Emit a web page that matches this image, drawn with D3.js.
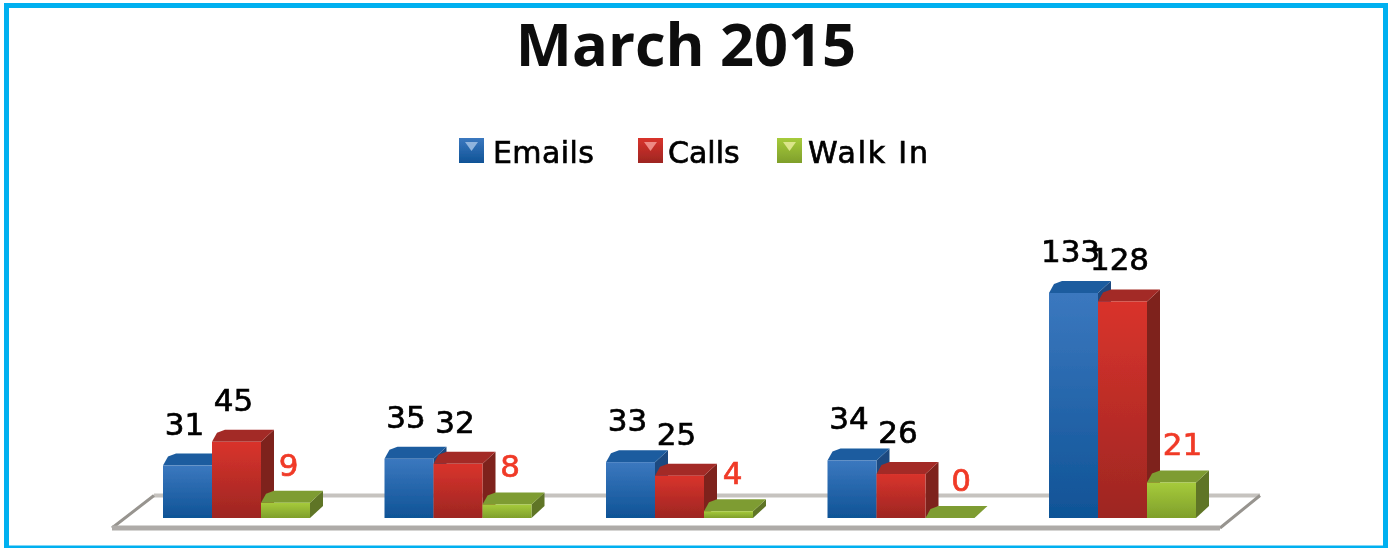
<!doctype html>
<html lang="en">
  <head>
    <title>March 2015</title>
    <style>
      html, body {
        margin: 0;
        background: #fff;
      }
      svg {
        display: block;
      }
      text {
        font-family: "DejaVu Sans", sans-serif;
      }
      .title {
        font-family: "Open Sans", sans-serif;
        font-weight: 700;
      }
    </style>
  </head>
  <body>
    <div id="chart"></div>

    <script src="https://cdn.jsdelivr.net/npm/d3@7"></script>
    <script>
      const title = 'March 2015'
      const groups = ['A', 'B', 'C', 'D', 'E']
      const series = ['Emails', 'Calls', 'Walk In']
      const emails = [31, 35, 33, 34, 133]
      const calls = [45, 32, 25, 26, 128]
      const walkIn = [9, 8, 4, 0, 21]
      const values = [emails, calls, walkIn]

      const width = 1389
      const height = 548
      const depthX = 13
      const depthY = 12
      const barWidth = 49
      // the walk in labels were placed by hand in the original
      const walkInNudge = [0, 0, 1, 8, 8]

      const svg = d3.select('#chart')
        .append('svg')
        .attr('width', width)
        .attr('height', height)

      const defs = svg.append('defs')
      defs.append('filter').attr('id', 'soft')
        .append('feGaussianBlur').attr('stdDeviation', 0.7)

      const colors = {
        'Emails': { hi: '#3b78bf', lo: '#0f5396', top: '#1d5c9f', side: '#1b4a80', swatch: '#8fb4dd' },
        'Calls': { hi: '#d9332c', lo: '#9d2622', top: '#a32a25', side: '#7e221d', swatch: '#ee8a84' },
        'Walk In': { hi: '#a6cb3b', lo: '#7f9f2b', top: '#7e9c30', side: '#5f7526', swatch: '#dbe58a' }
      }

      series.forEach((s, i) => {
        const grad = defs.append('linearGradient')
          .attr('id', `grad${i}`)
          .attr('x1', 0).attr('x2', 0).attr('y1', 0).attr('y2', 1)
        grad.append('stop').attr('offset', 0).attr('stop-color', colors[s].hi)
        grad.append('stop').attr('offset', 1).attr('stop-color', colors[s].lo)
      })

      const x = d3.scalePoint()
        .domain(groups)
        .range([163, 1049])
      const inner = d3.scaleBand()
        .domain(series)
        .range([0, barWidth * 3])
      const y = d3.scaleLinear()
        .domain([0, 133])
        .range([518, 293])

      // frame runs off the bottom edge, like the cropped original
      svg.append('rect')
        .attr('x', 6.5)
        .attr('y', 5.5)
        .attr('width', width - 10)
        .attr('height', height)
        .attr('fill', '#fff')
        .attr('stroke', '#00b0f0')
        .attr('stroke-width', 5)
      svg.append('line')
        .attr('x1', 4)
        .attr('x2', 1386)
        .attr('y1', 547)
        .attr('y2', 547)
        .attr('stroke', '#00b0f0')
        .attr('stroke-width', 3)

      const page = svg.append('g').attr('filter', 'url(#soft)')

      page.append('text')
        .attr('class', 'title')
        .attr('x', 686)
        .attr('y', 66)
        .attr('text-anchor', 'middle')
        .attr('font-size', 59.5)
        .attr('fill', '#0a0a0a')
        .text(title)

      // legend
      const legendSwatch = d3.scaleOrdinal(series, [459, 638, 777])
      const legendText = d3.scaleOrdinal(series, [493, 668, 808])
      const legendSpacing = d3.scaleOrdinal(series, [0.4, 0, 1.8])
      const legend = page.append('g')
        .selectAll('g')
        .data(series)
        .join('g')
      legend.append('rect')
        .attr('x', d => legendSwatch(d))
        .attr('y', 138)
        .attr('width', 25)
        .attr('height', 25)
        .attr('fill', (d, i) => `url(#grad${i})`)
      legend.append('path')
        .attr('d', d => {
          const l = legendSwatch(d)
          return `M${l + 6},142L${l + 19},142L${l + 12.5},151Z`
        })
        .attr('fill', d => colors[d].swatch)
      legend.append('text')
        .attr('x', d => legendText(d))
        .attr('y', 163)
        .attr('font-size', 30)
        .attr('letter-spacing', d => legendSpacing(d))
        .attr('fill', '#000')
        .attr('stroke', '#000')
        .attr('stroke-width', 0.7)
        .text(d => d)

      // floor
      const baseY = y(0)
      const floorLeft = x(groups[0]) - 51
      const floorRight = x(groups[4]) + 171
      const floorBack = baseY - 22.5
      const floorFront = baseY + 10
      page.append('path')
        .attr('d', `M${floorLeft + 42},${floorBack}L${floorRight + 40},${floorBack}`)
        .attr('stroke', '#c6c3bf')
        .attr('stroke-width', 4)
      page.append('path')
        .attr('d', `M${floorLeft},${floorFront}L${floorLeft + 42},${floorBack}M${floorRight},${floorFront}L${floorRight + 40},${floorBack}`)
        .attr('stroke', '#97948f')
        .attr('stroke-width', 3)
      page.append('path')
        .attr('d', `M${floorLeft},${floorFront}L${floorRight},${floorFront}`)
        .attr('stroke', '#aeaba8')
        .attr('stroke-width', 5)

      // bars go left to right so each one covers the side of the previous
      const plot = page.append('g')
      groups.forEach((g, gi) => {
        series.forEach((s, si) => {
          const v = values[si][gi]
          const left = x(g) + inner(s)
          const right = left + inner.bandwidth()
          const top = y(v)
          const c = colors[s]
          const bar = plot.append('g')

          bar.append('path')
            .attr('d', `M${right},${top}L${right + depthX},${top - depthY}L${right + depthX},${baseY - depthY}L${right},${baseY}Z`)
            .attr('fill', c.side)
          bar.append('path')
            .attr('d', `M${left},${top}L${left + 5},${top - depthY + 3}L${left + depthX},${top - depthY}L${right + depthX},${top - depthY}L${right},${top}Z`)
            .attr('fill', c.top)
          if (v > 0) {
            bar.append('rect')
              .attr('x', left)
              .attr('y', top)
              .attr('width', right - left)
              .attr('height', baseY - top)
              .attr('fill', `url(#grad${si})`)
          }
        })
      })

      // value labels
      series.forEach((s, si) => {
        page.append('g')
          .selectAll('text')
          .data(values[si])
          .join('text')
          .attr('x', (d, i) => x(groups[i]) + inner(s) + inner.bandwidth() / 2 + (si === 2 ? 3 + walkInNudge[i] : -3))
          .attr('y', d => y(d) - (si === 2 ? 27 : 31))
          .attr('text-anchor', 'middle')
          .attr('font-size', 31)
          .attr('fill', si === 2 ? '#f03a28' : '#000')
          .attr('stroke', si === 2 ? '#f03a28' : '#000')
          .attr('stroke-width', 0.7)
          .text(d => d)
      })
    </script>
  </body>
</html>
